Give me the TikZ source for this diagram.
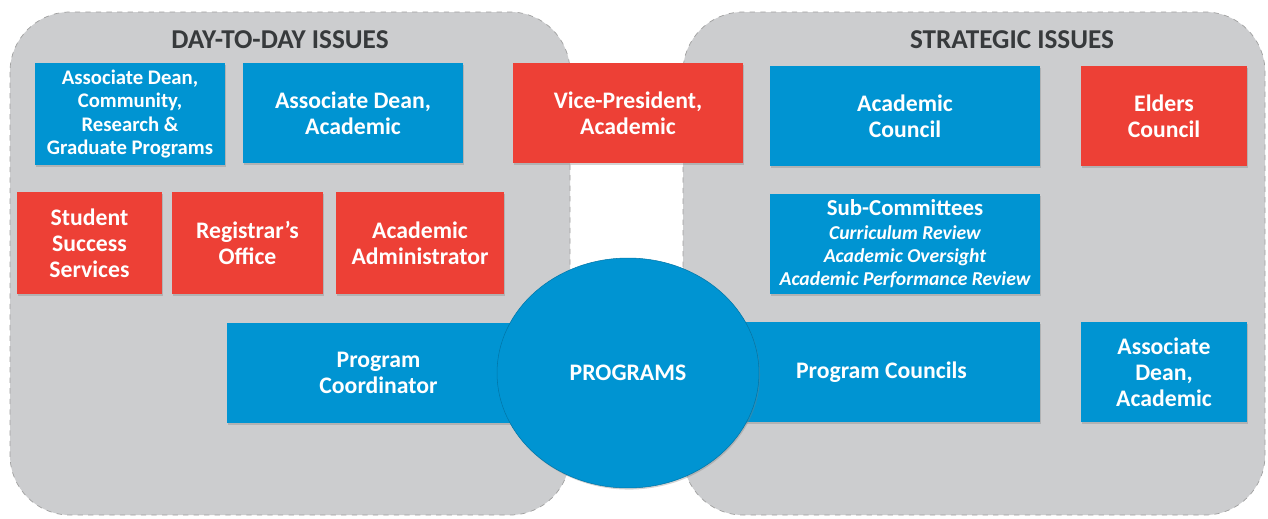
\documentclass[tikz,border=0pt]{standalone}
\usepackage{fontspec}
\setmainfont{Carlito}
\usetikzlibrary{shapes.geometric,shadows}
\definecolor{boxblue}{RGB}{0,148,210}
\definecolor{boxred}{RGB}{237,64,54}
\definecolor{groupgray}{RGB}{204,205,207}
\definecolor{headgray}{RGB}{55,58,60}
\tikzset{
  group/.style={draw=gray!75, dashed, fill=groupgray, rounded corners=1.2cm},
  heading/.style={text=headgray, font=\fontsize{15.5}{17}\selectfont\bfseries},
  unit/.style={text=white, align=center, inner sep=2pt,
    font=\fontsize{13.5}{14.8}\selectfont\bfseries,
    drop shadow={shadow xshift=0.6pt, shadow yshift=-0.9pt, opacity=0.35}},
  bluebox/.style={unit, fill=boxblue},
  redbox/.style={unit, fill=boxred},
  small/.style={font=\fontsize{11.8}{13.3}\selectfont\bfseries}
}
\begin{document}
\begin{tikzpicture}[x=0.02cm, y=-0.02cm]
\useasboundingbox (0,0) rectangle (1268,518);

\draw[group] (10,12) rectangle (570,515);
\draw[group] (683,12) rectangle (1265,515);

\node[heading] (dayhead) at (280,40) {DAY-TO-DAY ISSUES};
\node[heading] (strathead) at (1012,40) {STRATEGIC ISSUES};

\node[bluebox, small, minimum width=3.8cm, minimum height=2.04cm] (adcom) at (130,114)
  {Associate Dean,\\Community,\\Research \&\\Graduate Programs};
\node[bluebox, minimum width=4.4cm, minimum height=2cm] (adacad) at (353,113)
  {Associate Dean,\\Academic};
\node[redbox, minimum width=4.6cm, minimum height=2cm] (vp) at (628,113)
  {Vice-President,\\Academic};
\node[bluebox, minimum width=5.4cm, minimum height=2cm] (council) at (905,116)
  {Academic\\Council};
\node[redbox, minimum width=3.32cm, minimum height=2cm] (elders) at (1164,116)
  {Elders\\Council};

\node[redbox, minimum width=2.9cm, minimum height=2.04cm] (student) at (89.5,243)
  {Student\\Success\\Services};
\node[redbox, minimum width=3.02cm, minimum height=2.04cm] (registrar) at (247.5,243)
  {Registrar’s\\Office};
\node[redbox, minimum width=3.36cm, minimum height=2.04cm] (admin) at (420,243)
  {Academic\\Administrator};
\node[bluebox, minimum width=5.4cm, minimum height=2cm,
  font=\fontsize{11.2}{13.3}\selectfont\bfseries] (subcom) at (905,244)
  {{\fontsize{13}{13.3}\selectfont Sub-Committees}\\
   \itshape Curriculum Review\\
   \itshape Academic Oversight\\
   \itshape Academic Performance Review};

\node[bluebox, minimum width=6.06cm, minimum height=2cm] (coord) at (378.5,373)
  {Program\\Coordinator};
\node[bluebox, minimum width=6.34cm, minimum height=2cm] (pcouncils) at (881.5,372)
  {Program Councils};
\node[bluebox, minimum width=3.32cm, minimum height=2cm] (adright) at (1164,372)
  {Associate\\Dean,\\Academic};

\node[bluebox, ellipse, draw=boxblue!80!black, line width=0.3pt,
  minimum width=5.24cm, minimum height=4.6cm] (prog) at (628,373) {PROGRAMS};
\end{tikzpicture}
\end{document}
